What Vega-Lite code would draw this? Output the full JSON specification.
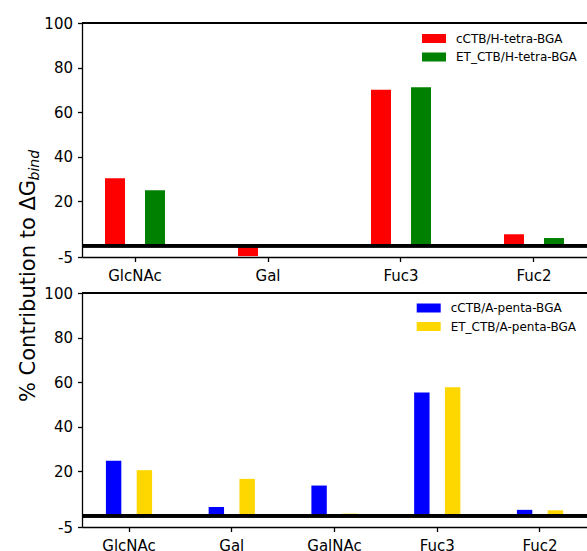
{
  "$schema": "https://vega.github.io/schema/vega-lite/v6.json",
  "background": "white",
  "padding": {"left": 17, "top": 16, "right": 0, "bottom": 0},
  "bounds": "flush",
  "spacing": 36,
  "resolve": {"scale": {"color": "independent"}},
  "config": {
    "font": "DejaVu Sans",
    "view": {"stroke": null},
    "axis": {
      "grid": false,
      "domainColor": "black",
      "domainWidth": 1.3,
      "tickColor": "black",
      "tickWidth": 1.3,
      "tickSize": 4.5,
      "labelFontSize": 15,
      "labelColor": "black",
      "titleColor": "black",
      "titleFontWeight": "normal"
    },
    "axisX": {"labelPadding": 7, "labelAngle": 0},
    "axisY": {"labelPadding": 5},
    "legend": {
      "symbolType": "M-2,-0.75H2V0.75H-2Z",
      "symbolSize": 144,
      "symbolStrokeWidth": 0,
      "labelFontSize": 12,
      "labelColor": "black",
      "labelOffset": 16,
      "rowPadding": 6.5,
      "padding": 0
    }
  },
  "vconcat": [
    {
      "width": 505,
      "height": 234,
      "data": {"values": [
        {"sugar": "GlcNAc", "series": "cCTB/H-tetra-BGA", "pct": 30.3},
        {"sugar": "GlcNAc", "series": "ET_CTB/H-tetra-BGA", "pct": 24.9},
        {"sugar": "Gal", "series": "cCTB/H-tetra-BGA", "pct": -4.6},
        {"sugar": "Gal", "series": "ET_CTB/H-tetra-BGA", "pct": 0},
        {"sugar": "Fuc3", "series": "cCTB/H-tetra-BGA", "pct": 70.0},
        {"sugar": "Fuc3", "series": "ET_CTB/H-tetra-BGA", "pct": 71.2},
        {"sugar": "Fuc2", "series": "cCTB/H-tetra-BGA", "pct": 5.2},
        {"sugar": "Fuc2", "series": "ET_CTB/H-tetra-BGA", "pct": 3.5}
      ]},
      "encoding": {
        "x": {"field": "sugar", "type": "nominal", "sort": ["GlcNAc", "Gal", "Fuc3", "Fuc2"],
              "scale": {"paddingInner": 0.552, "paddingOuter": 0.1745},
              "axis": {"title": null}},
        "y": {"field": "pct", "type": "quantitative",
              "scale": {"domain": [-5, 100], "nice": false, "zero": false},
              "axis": {"values": [-5, 20, 40, 60, 80, 100],
                       "labelExpr": "datum.value < 0 ? '-5' : datum.label",
                       "title": "% Contribution to ΔG",
                       "titleFontSize": 21,
                       "titleAngle": 270,
                       "titleAlign": "center",
                       "titleBaseline": "alphabetic",
                       "titleX": -48,
                       "titleY": 267.5}},
        "color": {"field": "series", "type": "nominal",
                  "scale": {"domain": ["cCTB/H-tetra-BGA", "ET_CTB/H-tetra-BGA"], "range": ["#ff0000", "#008000"]},
                  "legend": {"title": null, "orient": "none", "legendX": 346, "legendY": 9.5}}
      },
      "layer": [
        {
          "transform": [{"filter": "datum.series == 'cCTB/H-tetra-BGA'"}],
          "mark": {"type": "bar", "width": 20, "xOffset": -20}
        },
        {
          "transform": [{"filter": "datum.series == 'ET_CTB/H-tetra-BGA'"}],
          "mark": {"type": "bar", "width": 20, "xOffset": 20}
        },
        {"mark": {"type": "rule", "strokeWidth": 3, "color": "black"}, "encoding": {"x": null, "color": null, "y": {"datum": 0}}},
        {"mark": {"type": "rule", "strokeWidth": 1.3, "color": "black"}, "encoding": {"x": null, "color": null, "y": {"datum": 100}}}
      ]
    },
    {
      "width": 505,
      "height": 234,
      "data": {"values": [
        {"sugar": "GlcNAc", "series": "cCTB/A-penta-BGA", "pct": 24.7},
        {"sugar": "GlcNAc", "series": "ET_CTB/A-penta-BGA", "pct": 20.5},
        {"sugar": "Gal", "series": "cCTB/A-penta-BGA", "pct": 4.0},
        {"sugar": "Gal", "series": "ET_CTB/A-penta-BGA", "pct": 16.6},
        {"sugar": "GalNAc", "series": "cCTB/A-penta-BGA", "pct": 13.6},
        {"sugar": "GalNAc", "series": "ET_CTB/A-penta-BGA", "pct": 1.0},
        {"sugar": "Fuc3", "series": "cCTB/A-penta-BGA", "pct": 55.3},
        {"sugar": "Fuc3", "series": "ET_CTB/A-penta-BGA", "pct": 57.7},
        {"sugar": "Fuc2", "series": "cCTB/A-penta-BGA", "pct": 2.7},
        {"sugar": "Fuc2", "series": "ET_CTB/A-penta-BGA", "pct": 2.5}
      ]},
      "encoding": {
        "x": {"field": "sugar", "type": "nominal", "sort": ["GlcNAc", "Gal", "GalNAc", "Fuc3", "Fuc2"],
              "scale": {"paddingInner": 0.551, "paddingOuter": 0.233},
              "axis": {"title": null}},
        "y": {"field": "pct", "type": "quantitative",
              "scale": {"domain": [-5, 100], "nice": false, "zero": false},
              "axis": {"values": [-5, 20, 40, 60, 80, 100],
                       "labelExpr": "datum.value < 0 ? '-5' : datum.label",
                       "title": "bind",
                       "titleFontSize": 14,
                       "titleFontStyle": "italic",
                       "titleAngle": 270,
                       "titleAlign": "left",
                       "titleBaseline": "alphabetic",
                       "titleX": -44,
                       "titleY": -113}},
        "color": {"field": "series", "type": "nominal",
                  "scale": {"domain": ["cCTB/A-penta-BGA", "ET_CTB/A-penta-BGA"], "range": ["#0000ff", "#ffd700"]},
                  "legend": {"title": null, "orient": "none", "legendX": 340.7, "legendY": 9}}
      },
      "layer": [
        {
          "transform": [{"filter": "datum.series == 'cCTB/A-penta-BGA'"}],
          "mark": {"type": "bar", "width": 15.4, "xOffset": -15.4}
        },
        {
          "transform": [{"filter": "datum.series == 'ET_CTB/A-penta-BGA'"}],
          "mark": {"type": "bar", "width": 15.4, "xOffset": 15.4}
        },
        {"mark": {"type": "rule", "strokeWidth": 3, "color": "black"}, "encoding": {"x": null, "color": null, "y": {"datum": 0}}},
        {"mark": {"type": "rule", "strokeWidth": 1.3, "color": "black"}, "encoding": {"x": null, "color": null, "y": {"datum": 100}}}
      ]
    }
  ]
}
